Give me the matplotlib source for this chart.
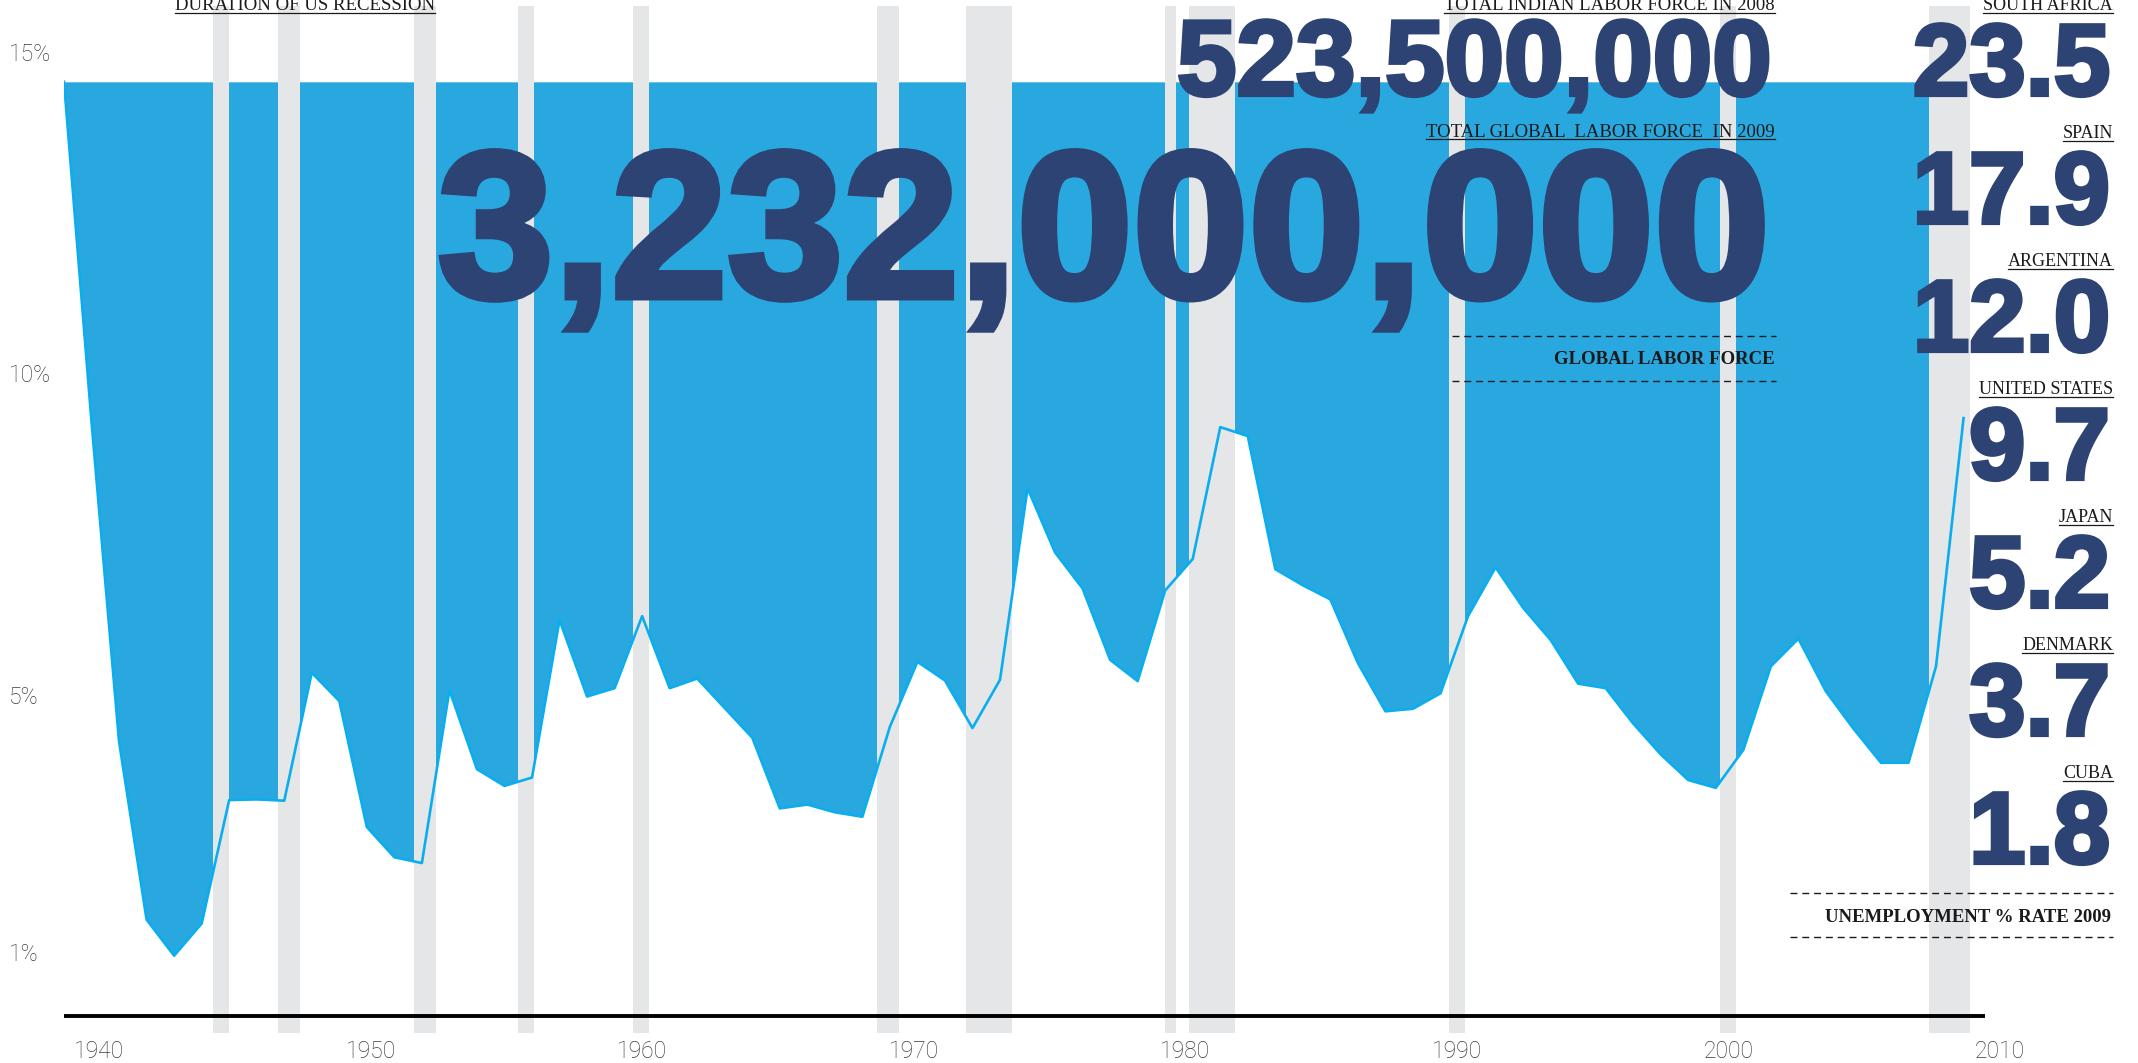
import numpy as np
import matplotlib
matplotlib.use('Agg')
import matplotlib.pyplot as plt
import matplotlib.patheffects as pe
from matplotlib.lines import Line2D

# ---- data -----------------------------------------------------------------
years = np.arange(1940, 2010)
rate = [14.53, 9.24, 4.27, 1.50, 0.94, 1.44, 3.36, 3.37, 3.35, 5.34,
        4.90, 2.94, 2.47, 2.38, 5.07, 3.84, 3.58, 3.71, 6.16, 4.97,
        5.10, 6.22, 5.10, 5.25, 4.79, 4.33, 3.23, 3.29, 3.17, 3.10,
        4.50, 5.51, 5.22, 4.48, 5.23, 8.21, 7.21, 6.65, 5.54, 5.21,
        6.62, 7.11, 9.16, 9.02, 6.95, 6.70, 6.48, 5.49, 4.74, 4.78,
        5.02, 6.22, 6.98, 6.35, 5.85, 5.17, 5.10, 4.55, 4.07, 3.67,
        3.55, 4.14, 5.44, 5.87, 5.05, 4.47, 3.94, 3.94, 5.44, 9.30]

# US recessions (start, end) on the chart's own year scale
rec_start = [1945.40, 1947.77, 1952.71, 1956.49, 1960.67, 1969.53,
             1972.76, 1979.98, 1980.86, 1990.31, 2000.14, 2007.75]
rec_end = [1945.99, 1948.57, 1953.50, 1957.07, 1961.25, 1970.33,
           1974.43, 1980.40, 1982.54, 1990.89, 2000.74, 2009.24]

y_ticks = [15, 10, 5, 1]
x_tick_years = [1940, 1950, 1960, 1970, 1980, 1990, 2000, 2010]

countries = ['SOUTH AFRICA', 'SPAIN', 'ARGENTINA', 'UNITED STATES',
             'JAPAN', 'DENMARK', 'CUBA']
country_rate = [23.5, 17.9, 12.0, 9.7, 5.2, 3.7, 1.8]

india_labor = 523500000
global_labor = 3232000000

# ---- styling ---------------------------------------------------------------
FILL = '#29A8E0'
LINE = '#0AAEEF'
GRAY = '#E5E6E8'
NAVY = '#2C4374'
TICK = '#3C3C3C'
INK = '#1A1A1A'

W, H = 2138, 1063
fig = plt.figure(figsize=(W / 100, H / 100), dpi=100)


def fx(px):
    return px / W


def fy(py):
    return 1 - py / H


# ---- chart -----------------------------------------------------------------
ax = fig.add_axes([fx(64), fy(1033), fx(2000) - fx(64), fy(6) - fy(1033)])
ax.set_xlim(1940, 1940 + (2000 - 64) / 27.53)
ax.set_ylim(-0.263, 15.709)
ax.patch.set_alpha(0)

ax.fill_between(years, rate, rate[0], color=FILL, lw=0, zorder=1)
for s, e in zip(rec_start, rec_end):
    ax.axvspan(s, e, color=GRAY, lw=0, zorder=2)
ax.plot(years, rate, color=LINE, lw=1.9, zorder=3)
ax.hlines(0, 1940, 2009.78, color='black', lw=2.8, zorder=4)

for sp in ax.spines.values():
    sp.set_visible(False)
ax.set_xticks([])
ax.set_yticks(y_ticks, [f'{v}%' for v in y_ticks])
ax.tick_params(axis='y', length=0, pad=39.5, labelsize=16.5, labelcolor=TICK)
for lab in ax.get_yticklabels():
    lab.set_horizontalalignment('left')
    lab.set_fontfamily('Roboto')
    lab.set_fontweight('light')


# decade labels sit on a slightly different scale than the data
def to_lab(d):
    return 1940 + ((d - 1940) * 27.53 - 35) / 27.157


def to_data(l):
    return 1940 + ((l - 1940) * 27.157 + 35) / 27.53


sec = ax.secondary_xaxis('bottom', functions=(to_lab, to_data))
sec.set_xticks(x_tick_years, [str(y) for y in x_tick_years])
sec.tick_params(length=0, pad=5, labelsize=16.5, labelcolor=TICK)
sec.spines['bottom'].set_visible(False)
for lab in sec.get_xticklabels():
    lab.set_fontfamily('Roboto')
    lab.set_fontweight('light')

# ---- text ------------------------------------------------------------------
def heavy(w):
    return [pe.Stroke(linewidth=w, foreground=NAVY, joinstyle='miter'),
            pe.Normal()]


underlined = []


def label(x, base, s, size=13.5, weight='normal', underline=True):
    t = fig.text(fx(x), fy(base), s, ha='right', va='baseline',
                 family='Liberation Serif', fontsize=size, weight=weight,
                 color=INK, zorder=6)
    if underline:
        underlined.append((t, base))
    return t


label(435, 10, 'DURATION OF US RECESSION')
label(1775, 10, 'TOTAL INDIAN LABOR FORCE IN 2008')
label(1775, 137, 'TOTAL GLOBAL  LABOR FORCE  IN 2009')

fig.text(fx(1772), fy(95), f'{india_labor:,}', ha='right', va='baseline',
         family='Liberation Sans', weight='bold', fontsize=77, color=NAVY,
         path_effects=heavy(3), zorder=5)
fig.text(fx(1770), fy(297), f'{global_labor:,}', ha='right', va='baseline',
         family='Liberation Sans', weight='bold', fontsize=150, color=NAVY,
         path_effects=heavy(5), zorder=5)

label(1775, 364, 'GLOBAL LABOR FORCE', weight='bold', underline=False)
for yy in (336, 381):
    fig.add_artist(Line2D([fx(1452), fx(1776)], [fy(yy), fy(yy)],
                          color=INK, lw=1, ls=(0, (5, 3.5))))

for i, (name, val) in enumerate(zip(countries, country_rate)):
    base = 10 + 128 * i
    label(2113, base, name, size=13)
    fig.text(fx(2110), fy(base + 85), f'{val:.1f}', ha='right', va='baseline',
             family='Liberation Sans', weight='bold', fontsize=73, color=NAVY,
             path_effects=heavy(3), zorder=5)

label(2111, 922, 'UNEMPLOYMENT % RATE 2009', weight='bold', underline=False)
for yy in (893, 937):
    fig.add_artist(Line2D([fx(1790), fx(2113)], [fy(yy), fy(yy)],
                          color=INK, lw=1, ls=(0, (5, 3.5))))

# underline the small caption labels
fig.canvas.draw()
renderer = fig.canvas.get_renderer()
for t, base in underlined:
    bb = t.get_window_extent(renderer)
    fig.add_artist(Line2D([bb.x0 / W, bb.x1 / W], [fy(base + 2.5)] * 2,
                          color=INK, lw=0.9))

fig.savefig('out.png', dpi=100)
